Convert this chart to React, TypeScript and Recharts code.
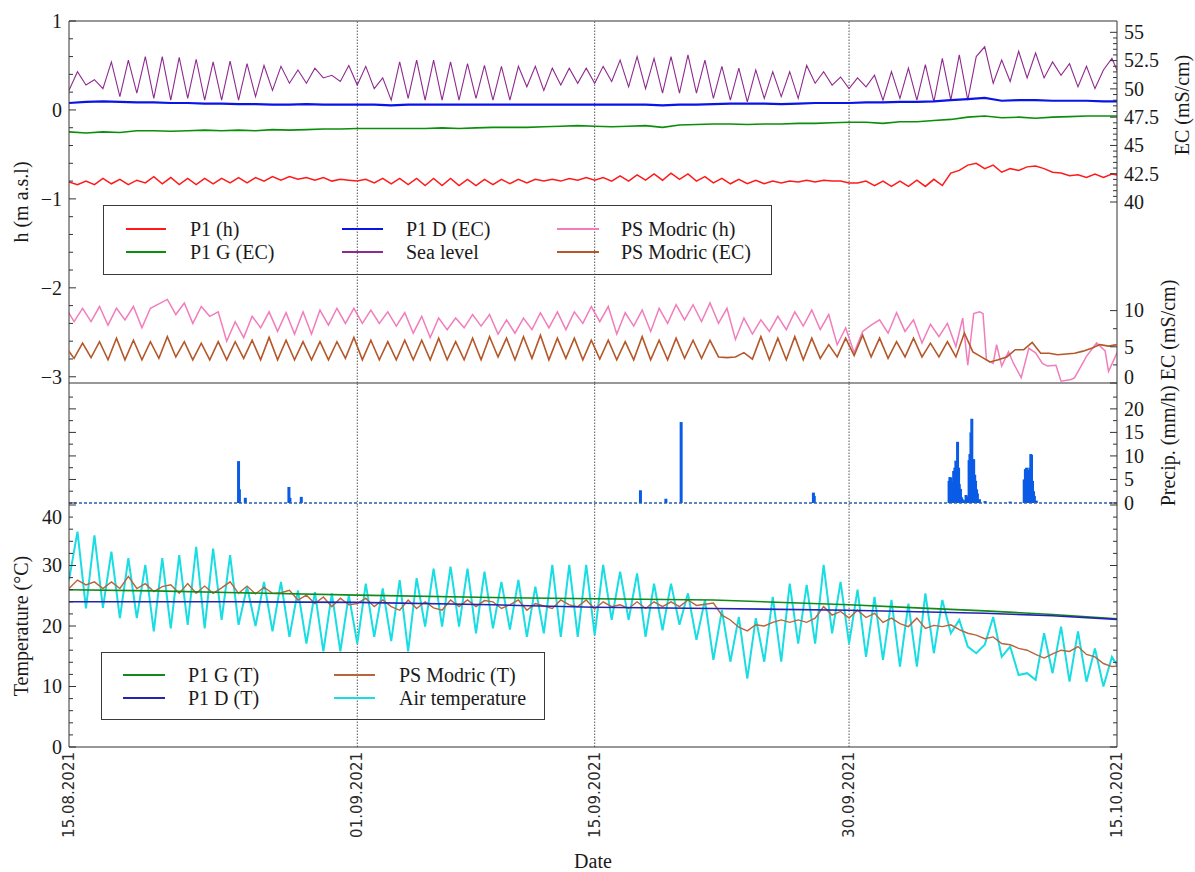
import React from 'react';
import { ComposedChart, Line, Bar, XAxis, YAxis, ReferenceLine, Legend } from 'recharts';

if (typeof document !== 'undefined') {
  document.body.style.margin = '0';
}

// ---------- layout ----------
const W = 1195;
const H = 872;
const LEFT_W = 69;
const RIGHT_W = 78;
const TOP_A = 21;
const BOT_A = 383;
const BOT_B = 505;
const BOT_C = 747;

// ---------- style ----------
const SERIF = '"Liberation Serif", Tinos, "Times New Roman", Times, "DejaVu Serif", serif';
const SANS = '"DejaVu Sans", Verdana, sans-serif';
const FS = 20;
const TEXT = '#1a1a1a';
const AXIS = '#333333';
const RED = '#ff1a1a';
const GREEN = '#0a8f0a';
const BLUE = '#0a14e6';
const PURPLE = '#8f2a8f';
const PINK = '#f27dbd';
const BROWN = '#b4582a';
const PBLUE = '#0a5ce6';
const T_GREEN = '#12891a';
const T_NAVY = '#2424b0';
const T_BROWN = '#b8643c';
const CYAN = '#18dde3';

// ---------- x axis (days since 15.08.2021) ----------
const X_DOMAIN = [0, 61.8];
const DATE_TICKS = [0, 17, 31, 46, 61.8];
const DATE_LABELS = ['15.08.2021', '01.09.2021', '15.09.2021', '30.09.2021', '15.10.2021'];
const GRID_DAYS = [17, 31, 46];

// ---------- y axes ----------
const H_DOMAIN = [-3.07, 1];
const H_MAJOR = [-3, -2, -1, 0, 1];
const EC_DOMAIN = [24, 56];
const EC_MAJOR = [40, 42.5, 45, 47.5, 50, 52.5, 55];
const ECL_DOMAIN = [0, 50];
const ECL_MAJOR = [0, 5, 10];
const P_DOMAIN = [-0.43, 25.5];
const P_MAJOR = [0, 5, 10, 15, 20];
const T_DOMAIN = [0, 40];
const T_MAJOR = [0, 10, 20, 30, 40];

// ---------- data ----------
// Sea level (m a.s.l), half-day samples from day 0
const SEA_LEVEL = [
  0.22, 0.43, 0.28, 0.34, 0.24, 0.54, 0.15, 0.56, 0.19, 0.60, 0.13, 0.60, 0.11, 0.59, 0.13, 0.57,
  0.11, 0.54, 0.11, 0.55, 0.11, 0.52, 0.15, 0.50, 0.22, 0.49, 0.30, 0.45, 0.30, 0.47, 0.36, 0.39,
  0.32, 0.50, 0.28, 0.49, 0.24, 0.36, 0.11, 0.54, 0.13, 0.56, 0.11, 0.56, 0.11, 0.54, 0.11, 0.52,
  0.13, 0.50, 0.11, 0.49, 0.11, 0.49, 0.26, 0.49, 0.22, 0.47, 0.28, 0.47, 0.30, 0.47, 0.30, 0.49,
  0.32, 0.56, 0.26, 0.60, 0.24, 0.58, 0.19, 0.60, 0.19, 0.62, 0.19, 0.56, 0.13, 0.49, 0.11, 0.47,
  0.09, 0.45, 0.13, 0.43, 0.15, 0.43, 0.13, 0.50, 0.30, 0.43, 0.28, 0.37, 0.24, 0.36, 0.26, 0.39,
  0.11, 0.43, 0.13, 0.47, 0.11, 0.51, 0.09, 0.58, 0.11, 0.62, 0.11, 0.60, 0.71, 0.30, 0.56, 0.32,
  0.66, 0.36, 0.64, 0.36, 0.54, 0.39, 0.52, 0.26, 0.49, 0.24, 0.45, 0.58, 0.36,
];
// P1 (h), half-day samples from day 0
const P1_H = [
  -0.81, -0.84, -0.80, -0.84, -0.77, -0.83, -0.78, -0.84, -0.79, -0.82, -0.75, -0.83, -0.76, -0.84, -0.77, -0.84,
  -0.77, -0.83, -0.77, -0.82, -0.76, -0.82, -0.76, -0.80, -0.75, -0.79, -0.75, -0.78, -0.76, -0.79, -0.76, -0.80,
  -0.78, -0.79, -0.80, -0.78, -0.82, -0.77, -0.83, -0.77, -0.84, -0.77, -0.85, -0.77, -0.85, -0.77, -0.85, -0.78,
  -0.85, -0.78, -0.84, -0.78, -0.83, -0.78, -0.82, -0.78, -0.80, -0.78, -0.80, -0.77, -0.79, -0.76, -0.79, -0.76,
  -0.80, -0.74, -0.80, -0.73, -0.79, -0.72, -0.79, -0.71, -0.78, -0.72, -0.80, -0.75, -0.82, -0.77, -0.83, -0.78,
  -0.83, -0.79, -0.83, -0.80, -0.82, -0.80, -0.81, -0.79, -0.81, -0.79, -0.80, -0.80, -0.82, -0.82, -0.80, -0.85,
  -0.80, -0.86, -0.80, -0.86, -0.79, -0.86, -0.78, -0.85, -0.71, -0.68, -0.62, -0.60, -0.66, -0.62, -0.70, -0.66,
  -0.68, -0.64, -0.63, -0.66, -0.70, -0.71, -0.74, -0.73, -0.76, -0.72, -0.76, -0.72, -0.74,
];
// P1 D (EC) and P1 G (EC), daily samples from day 0 (mS/cm)
const P1D_EC = [
  48.75, 48.85, 48.9, 48.85, 48.8, 48.8, 48.75, 48.75, 48.7, 48.7, 48.65, 48.65, 48.6, 48.6, 48.65, 48.6,
  48.6, 48.6, 48.6, 48.55, 48.6, 48.6, 48.6, 48.6, 48.6, 48.6, 48.6, 48.6, 48.6, 48.6, 48.6, 48.6,
  48.6, 48.6, 48.6, 48.55, 48.6, 48.6, 48.65, 48.7, 48.7, 48.7, 48.65, 48.7, 48.75, 48.75, 48.75, 48.8,
  48.8, 48.85, 48.85, 48.9, 49.0, 49.1, 49.2, 48.95, 49.0, 49.0, 48.95, 48.95, 48.95, 48.9, 48.9,
];
const P1G_EC = [
  46.2, 46.1, 46.2, 46.15, 46.3, 46.3, 46.25, 46.3, 46.35, 46.3, 46.35, 46.3, 46.4, 46.35, 46.4, 46.45,
  46.45, 46.5, 46.5, 46.5, 46.5, 46.5, 46.55, 46.5, 46.55, 46.6, 46.6, 46.6, 46.65, 46.7, 46.75, 46.7,
  46.65, 46.7, 46.75, 46.6, 46.8, 46.85, 46.9, 46.9, 46.85, 46.9, 46.9, 46.95, 46.95, 47.0, 47.05, 47.05,
  46.95, 47.1, 47.1, 47.2, 47.3, 47.5, 47.6, 47.45, 47.5, 47.4, 47.5, 47.55, 47.6, 47.6, 47.6,
];
// PS Modric (h): half-day samples from day -0.2 up to day 52.3, then irregular readings
const PS_H = [
  -2.22, -2.38, -2.23, -2.38, -2.21, -2.42, -2.23, -2.36, -2.21, -2.45, -2.23, -2.18, -2.13, -2.30, -2.17, -2.40,
  -2.21, -2.32, -2.27, -2.60, -2.38, -2.56, -2.32, -2.45, -2.27, -2.49, -2.28, -2.52, -2.27, -2.52, -2.25, -2.42,
  -2.23, -2.40, -2.23, -2.40, -2.25, -2.40, -2.27, -2.43, -2.28, -2.51, -2.32, -2.56, -2.34, -2.47, -2.34, -2.45,
  -2.30, -2.43, -2.30, -2.52, -2.36, -2.51, -2.34, -2.47, -2.28, -2.45, -2.27, -2.47, -2.27, -2.40, -2.21, -2.38,
  -2.21, -2.52, -2.28, -2.43, -2.25, -2.49, -2.23, -2.40, -2.19, -2.36, -2.19, -2.38, -2.17, -2.40, -2.23, -2.58,
  -2.34, -2.52, -2.36, -2.49, -2.32, -2.47, -2.27, -2.43, -2.25, -2.47, -2.30, -2.64, -2.45, -2.73, -2.49, -2.42,
  -2.36, -2.51, -2.28, -2.49, -2.36, -2.62, -2.41, -2.55, -2.40, -2.66,
];
const PS_H_LATE_T = [52.7, 53.0, 53.35, 53.7, 53.9, 54.1, 54.5, 54.7, 55.0, 55.4, 55.7, 56.15, 56.6, 57.0, 57.4, 57.7, 58.2, 58.5, 59.1, 59.3, 60.0, 60.6, 61.1, 61.3, 61.85];
const PS_H_LATE_V = [-2.34, -2.87, -2.29, -2.27, -2.29, -2.81, -2.85, -2.64, -2.88, -2.72, -2.85, -3.01, -2.68, -2.73, -2.85, -2.88, -2.87, -3.05, -3.03, -3.01, -2.77, -2.62, -2.71, -2.94, -2.71];
// PS Modric (EC), half-day samples from day -0.2 (mS/cm)
const PS_EC = [
  5.0, 3.4, 5.5, 3.5, 5.7, 3.2, 6.2, 3.2, 5.9, 3.2, 5.7, 3.4, 6.4, 3.6, 5.7, 3.2,
  5.5, 3.2, 5.7, 3.2, 5.7, 3.4, 5.9, 3.2, 6.3, 3.2, 5.9, 3.2, 5.7, 3.2, 5.7, 3.2,
  5.7, 3.4, 6.3, 3.2, 5.9, 3.2, 5.7, 3.2, 5.9, 3.2, 5.9, 3.2, 6.2, 3.2, 5.7, 3.2,
  6.2, 3.2, 6.4, 3.6, 6.2, 3.2, 6.4, 3.4, 6.6, 3.2, 6.2, 3.4, 6.2, 3.2, 5.9, 3.3,
  5.9, 3.2, 5.7, 3.2, 6.4, 3.2, 5.9, 3.2, 6.2, 3.4, 5.9, 3.4, 5.9, 3.6, 3.5, 3.6,
  4.2, 3.3, 6.4, 3.2, 6.2, 3.2, 6.4, 3.2, 6.2, 3.4, 5.3, 3.6, 6.2, 3.8, 6.6, 3.6,
  6.2, 3.4, 5.7, 3.6, 6.2, 3.6, 5.5, 3.6, 5.7, 3.6, 6.9, 4.3, 3.6, 2.9, 3.2, 3.6,
  4.6, 4.6, 5.6, 4.1, 4.1, 3.9, 4.0, 4.1, 4.4, 4.8, 5.3, 5.1, 5.3,
];
// Precipitation (mm/h)
const PRECIP_T = [
  10.0, 10.05, 10.4, 12.97, 13.03, 13.7, 33.7, 35.2, 36.1, 43.9, 43.95,
  51.9, 51.95, 52.01, 52.1, 52.17, 52.24, 52.3, 52.4, 52.46, 52.5, 52.57, 52.63, 52.68, 52.79, 52.9, 52.95,
  53.02, 53.08, 53.13, 53.19, 53.24, 53.3, 53.35, 53.41, 53.46, 53.52, 53.57, 53.69, 54.02, 55.5,
  56.33, 56.4, 56.47, 56.53, 56.6, 56.66, 56.72, 56.76, 56.82, 56.88, 56.93, 57.04,
];
const PRECIP_V = [
  8.9, 2.9, 1.1, 3.4, 1.1, 1.3, 2.7, 0.9, 17.2, 2.2, 1.5,
  4.7, 5.5, 5.4, 4.5, 6.8, 7.5, 9.0, 13.0, 7.5, 4.0, 3.0, 1.2, 0.8, 0.6, 1.7, 1.4,
  1.2, 9.1, 10.4, 15.0, 17.9, 9.3, 9.3, 6.0, 4.7, 2.9, 2.0, 0.8, 0.4, 0.3,
  5.0, 7.2, 7.5, 6.5, 7.0, 7.5, 10.4, 10.2, 4.7, 2.5, 1.5, 0.5,
];
// Temperatures (°C)
const P1G_T_T = [0, 5, 10, 17, 25, 31, 38, 46, 50, 54, 58, 61.8];
const P1G_T_V = [26.0, 25.8, 25.5, 25.1, 24.7, 24.5, 24.3, 23.5, 23.0, 22.5, 21.9, 21.2];
const P1D_T_T = [0, 10, 17, 25, 31, 38, 46, 54, 58, 61.8];
const P1D_T_V = [24.0, 24.0, 23.9, 23.5, 23.1, 22.9, 22.6, 22.1, 21.7, 21.1];
// PS Modric (T), half-day samples from day 0
const PS_T = [
  26.2, 27.6, 26.8, 27.3, 26.2, 27.3, 26.2, 28.2, 26.2, 27.0, 25.7, 26.5, 26.8, 25.4, 27.0, 25.4,
  26.6, 25.4, 26.3, 27.3, 25.4, 26.6, 25.3, 26.4, 25.4, 25.5, 25.9, 24.3, 25.1, 23.7, 24.8, 23.2,
  24.6, 23.5, 23.7, 24.6, 23.2, 24.3, 23.2, 22.6, 24.3, 22.9, 24.0, 23.0, 22.6, 24.3, 23.2, 24.3,
  23.2, 24.2, 24.0, 22.9, 23.5, 24.3, 22.6, 23.7, 23.3, 22.9, 24.3, 23.5, 23.2, 24.3, 22.8, 24.0,
  23.2, 23.5, 22.9, 24.0, 22.9, 24.0, 23.2, 24.0, 23.2, 24.3, 23.4, 23.6, 23.8, 21.8, 21.0, 19.8,
  19.2, 20.2, 20.0, 20.6, 21.0, 20.6, 21.0, 20.6, 21.3, 23.2, 21.8, 22.4, 21.3, 22.6, 21.4, 22.1,
  20.6, 21.3, 20.4, 19.9, 21.3, 19.6, 20.1, 19.9, 20.2, 19.4, 18.8, 18.5, 17.9, 18.2, 17.1, 16.9,
  16.3, 16.0, 15.3, 14.7, 15.4, 16.0, 15.8, 16.6, 15.3, 14.9, 13.8, 13.3, 13.4,
];
// Air temperature, half-day samples from day 0
const AIR_T = [
  27.6, 35.6, 22.9, 35.0, 23.0, 32.3, 21.3, 31.2, 21.3, 30.1, 19.1, 31.2, 19.6, 31.7, 20.2, 33.1,
  19.6, 32.8, 21.0, 31.7, 20.2, 26.5, 20.0, 27.3, 19.1, 27.3, 18.2, 25.9, 17.1, 25.6, 15.8, 25.4,
  15.8, 25.1, 17.1, 27.0, 18.2, 26.2, 17.5, 27.6, 15.8, 27.9, 19.9, 29.5, 19.9, 29.8, 19.9, 29.5,
  18.8, 29.0, 19.6, 27.3, 19.4, 27.6, 18.2, 26.5, 18.8, 30.1, 18.2, 30.1, 18.2, 30.1, 18.5, 30.1,
  21.0, 29.0, 21.0, 28.7, 18.2, 27.0, 19.3, 27.0, 20.2, 25.4, 17.7, 24.3, 14.4, 22.6, 14.1, 21.5,
  11.3, 21.3, 14.1, 24.8, 14.1, 27.0, 17.1, 26.8, 17.1, 30.1, 18.8, 27.3, 17.1, 26.0, 14.9, 24.8,
  14.4, 24.3, 13.3, 23.7, 13.3, 25.4, 15.5, 24.3, 18.8, 21.0, 16.6, 15.5, 16.9, 21.5, 14.9, 16.6,
  11.9, 12.2, 11.1, 18.8, 12.2, 19.9, 10.8, 19.1, 10.8, 16.3, 10.0, 14.9, 12.7,
];

// ---------- helpers ----------
const onGrid = (t0: number, step: number, vals: number[]) =>
  vals.map((v, i) => ({ t: Math.round((t0 + i * step) * 1000) / 1000, v }));
const paired = (ts: number[], vs: number[]) => ts.map((t, i) => ({ t, v: vs[i] }));
const steps = (a: number, b: number, s: number) => {
  const out: number[] = [];
  for (let x = a; x <= b + 1e-9; x += s) out.push(Math.round(x * 1000) / 1000);
  return out;
};

const seaData = onGrid(0, 0.5, SEA_LEVEL);
const p1hData = onGrid(0, 0.5, P1_H);
const p1dData = onGrid(0, 1, P1D_EC);
const p1gData = onGrid(0, 1, P1G_EC);
const psHData = [...onGrid(-0.2, 0.5, PS_H), ...paired(PS_H_LATE_T, PS_H_LATE_V)];
const psEcData = onGrid(-0.2, 0.5, PS_EC);
const precipData = paired(PRECIP_T, PRECIP_V);
const p1gTData = paired(P1G_T_T, P1G_T_V);
const p1dTData = paired(P1D_T_T, P1D_T_V);
const psTData = onGrid(0, 0.5, PS_T);
const airData = onGrid(0, 0.5, AIR_T);

const H_TICKS = steps(-3, 1, 0.2);
const EC_TICKS = steps(40, 55, 0.5);
const ECL_TICKS = steps(0, 10, 2.5);
const P_TICKS = steps(0, 22.5, 2.5);
const T_TICKS = steps(0, 40, 2);

const fmtNum = (v: number) => (v < 0 ? '\u2212' + Math.abs(v) : String(v));

type TickOpts = {
  side: 'left' | 'right';
  majors: number[];
  labels: boolean;
  shift?: { [k: string]: number };
};
const makeYTick = (o: TickOpts) => (props: any) => {
  const { x, y, payload } = props;
  const v = payload.value as number;
  const major = o.majors.some((m) => Math.abs(m - v) < 1e-6);
  const len = major ? 7 : 4;
  const d = o.side === 'left' ? 1 : -1;
  const dy = o.shift && o.shift[String(v)] !== undefined ? o.shift[String(v)] : 0;
  return (
    <g>
      <line x1={x} x2={x + d * len} y1={y} y2={y} stroke={AXIS} strokeWidth={1} />
      {major && o.labels ? (
        <text
          x={x - d * 7}
          y={y + dy}
          dy="0.34em"
          textAnchor={o.side === 'left' ? 'end' : 'start'}
          style={{ fontFamily: SERIF, fontSize: FS }}
          fill={TEXT}
        >
          {fmtNum(v)}
        </text>
      ) : null}
    </g>
  );
};

const DateTick = (props: any) => {
  const { x, y, payload } = props;
  const i = DATE_TICKS.findIndex((d) => Math.abs(d - payload.value) < 1e-6);
  const ty = y + 5;
  return (
    <text
      x={x}
      y={ty}
      transform={`rotate(-90 ${x} ${ty})`}
      textAnchor="end"
      dominantBaseline="central"
      style={{ fontFamily: SANS, fontSize: 15 }}
      fill="#2a2a2a"
    >
      {DATE_LABELS[i]}
    </text>
  );
};

const rotTitle = (text: string, dx: number, dy: number | null) => (p: any) => {
  const vb = p.viewBox;
  const cx = vb.x + dx;
  const cy = dy === null ? vb.y + vb.height / 2 : vb.y + dy;
  return (
    <text
      x={cx}
      y={cy}
      transform={`rotate(-90 ${cx} ${cy})`}
      textAnchor="middle"
      dominantBaseline="central"
      style={{ fontFamily: SERIF, fontSize: FS }}
      fill={TEXT}
    >
      {text}
    </text>
  );
};

type LegItem = { name: string; color: string };
const LEGEND_TOP: LegItem[] = [
  { name: 'P1 (h)', color: RED },
  { name: 'P1 G (EC)', color: GREEN },
  { name: 'P1 D (EC)', color: BLUE },
  { name: 'Sea level', color: PURPLE },
  { name: 'PS Modric (h)', color: PINK },
  { name: 'PS Modric (EC)', color: BROWN },
];
const LEGEND_BOTTOM: LegItem[] = [
  { name: 'P1 G (T)', color: T_GREEN },
  { name: 'P1 D (T)', color: T_NAVY },
  { name: 'PS Modric (T)', color: T_BROWN },
  { name: 'Air temperature', color: CYAN },
];

const legendBox = (
  items: LegItem[],
  w: number,
  h: number,
  cols: { line: [number, number]; text: number }[],
  rows: number[],
) => () => (
  <svg width={w} height={h} style={{ display: 'block', overflow: 'visible' }}>
    <rect x={0.5} y={0.5} width={w - 1} height={h - 1} fill="none" stroke="#3a3a3a" strokeWidth={1} />
    {items.map((it, i) => {
      const c = cols[Math.floor(i / 2)];
      const r = rows[i % 2];
      return (
        <g key={it.name}>
          <line x1={c.line[0]} x2={c.line[1]} y1={r} y2={r} stroke={it.color} strokeWidth={2.2} />
          <text x={c.text} y={r} dy="0.34em" style={{ fontFamily: SERIF, fontSize: FS }} fill={TEXT}>
            {it.name}
          </text>
        </g>
      );
    })}
  </svg>
);

const PrecipBar = (p: any) => {
  if (!p.height || p.height <= 0) return null;
  return <rect x={p.x + p.width / 2 - 1.5} y={p.y} width={3} height={p.height} fill={PBLUE} />;
};

const abs: React.CSSProperties = { position: 'absolute', left: 0, top: 0 };

const gridLines = (axisId: string) =>
  GRID_DAYS.map((d) => (
    <ReferenceLine
      key={'g' + d}
      x={d}
      yAxisId={axisId}
      stroke="#555"
      strokeWidth={1}
      strokeDasharray="1.5 1.5"
      ifOverflow="visible"
    />
  ));

export default function App() {
  return (
    <div style={{ position: 'relative', width: W, height: H, background: '#fff', overflow: 'hidden' }}>
      {/* Panel A: levels and EC (upper) */}
      <div style={abs}>
        <ComposedChart width={W} height={H} margin={{ top: TOP_A, right: 0, bottom: H - BOT_A, left: 0 }}>
          <XAxis dataKey="t" type="number" domain={X_DOMAIN} hide allowDataOverflow />
          <YAxis
            yAxisId="h"
            orientation="left"
            width={LEFT_W}
            type="number"
            domain={H_DOMAIN}
            allowDataOverflow
            ticks={H_TICKS}
            interval={0}
            tickSize={0}
            tickMargin={0}
            tickLine={false}
            axisLine={{ stroke: AXIS }}
            tick={makeYTick({ side: 'left', majors: H_MAJOR, labels: true })}
            label={{ content: rotTitle('h (m a.s.l)', 21, null) }}
          />
          <YAxis
            yAxisId="ec"
            orientation="right"
            width={RIGHT_W}
            type="number"
            domain={EC_DOMAIN}
            allowDataOverflow
            ticks={EC_TICKS}
            interval={0}
            tickSize={0}
            tickMargin={0}
            tickLine={false}
            axisLine={{ stroke: AXIS }}
            tick={makeYTick({ side: 'right', majors: EC_MAJOR, labels: true })}
            label={{ content: rotTitle('EC (mS/cm)', 65, 84) }}
          />
          <ReferenceLine y={H_DOMAIN[1]} yAxisId="h" stroke={AXIS} strokeWidth={1.2} />
          <ReferenceLine y={H_DOMAIN[0]} yAxisId="h" stroke={AXIS} strokeWidth={1.2} />
          {gridLines('h')}
          <Line data={psHData} dataKey="v" yAxisId="h" type="linear" stroke={PINK} strokeWidth={1.5} dot={false} isAnimationActive={false} />
          <Line data={seaData} dataKey="v" yAxisId="h" type="linear" stroke={PURPLE} strokeWidth={1.1} dot={false} isAnimationActive={false} />
          <Line data={p1gData} dataKey="v" yAxisId="ec" type="linear" stroke={GREEN} strokeWidth={1.6} dot={false} isAnimationActive={false} />
          <Line data={p1dData} dataKey="v" yAxisId="ec" type="linear" stroke={BLUE} strokeWidth={2.2} dot={false} isAnimationActive={false} />
          <Line data={p1hData} dataKey="v" yAxisId="h" type="linear" stroke={RED} strokeWidth={1.5} dot={false} isAnimationActive={false} />
          <Legend
            layout="horizontal"
            verticalAlign="middle"
            align="center"
            wrapperStyle={{ position: 'absolute', left: 103, top: 205, width: 669, height: 70 }}
            content={legendBox(
              LEGEND_TOP,
              669,
              70,
              [
                { line: [23, 63], text: 87 },
                { line: [239, 280], text: 303 },
                { line: [454, 496], text: 518 },
              ],
              [24, 47],
            )}
          />
        </ComposedChart>
      </div>

      {/* Panel A overlay: PS Modric EC on its own lower EC axis */}
      <div style={abs}>
        <ComposedChart width={W} height={H} margin={{ top: TOP_A, right: 0, bottom: H - BOT_A, left: 0 }}>
          <XAxis dataKey="t" type="number" domain={X_DOMAIN} hide allowDataOverflow />
          <YAxis yAxisId="dummy" orientation="left" width={LEFT_W} tick={false} axisLine={false} tickLine={false} />
          <YAxis
            yAxisId="ecl"
            orientation="right"
            width={RIGHT_W}
            type="number"
            domain={ECL_DOMAIN}
            allowDataOverflow
            ticks={ECL_TICKS}
            interval={0}
            tickSize={0}
            tickMargin={0}
            tickLine={false}
            axisLine={false}
            tick={makeYTick({ side: 'right', majors: ECL_MAJOR, labels: true, shift: { '0': -6 } })}
          />
          <Line data={psEcData} dataKey="v" yAxisId="ecl" type="linear" stroke={BROWN} strokeWidth={1.6} dot={false} isAnimationActive={false} />
        </ComposedChart>
      </div>

      {/* Panel B: precipitation */}
      <div style={abs}>
        <ComposedChart
          width={W}
          height={H}
          data={precipData}
          margin={{ top: BOT_A, right: 0, bottom: H - BOT_B, left: 0 }}
        >
          <XAxis dataKey="t" type="number" domain={X_DOMAIN} hide allowDataOverflow />
          <YAxis
            yAxisId="pl"
            orientation="left"
            width={LEFT_W}
            type="number"
            domain={P_DOMAIN}
            allowDataOverflow
            ticks={P_TICKS}
            interval={0}
            tickSize={0}
            tickMargin={0}
            tickLine={false}
            axisLine={{ stroke: AXIS }}
            tick={makeYTick({ side: 'left', majors: P_MAJOR, labels: false })}
          />
          <YAxis
            yAxisId="pr"
            orientation="right"
            width={RIGHT_W}
            type="number"
            domain={P_DOMAIN}
            allowDataOverflow
            ticks={P_TICKS}
            interval={0}
            tickSize={0}
            tickMargin={0}
            tickLine={false}
            axisLine={{ stroke: AXIS }}
            tick={makeYTick({ side: 'right', majors: P_MAJOR, labels: true })}
            label={{ content: rotTitle('Precip. (mm/h) EC (mS/cm)', 51, 10) }}
          />
          {gridLines('pr')}
          <ReferenceLine y={0} yAxisId="pr" stroke="#2a5cb0" strokeWidth={1.5} strokeDasharray="3 2" />
          <Bar dataKey="v" yAxisId="pr" fill={PBLUE} barSize={3} shape={PrecipBar} isAnimationActive={false} />
        </ComposedChart>
      </div>

      {/* Panel C: temperatures */}
      <div style={abs}>
        <ComposedChart width={W} height={H} margin={{ top: BOT_B, right: 0, bottom: 0, left: 0 }}>
          <XAxis
            dataKey="t"
            type="number"
            domain={X_DOMAIN}
            allowDataOverflow
            ticks={DATE_TICKS}
            interval={0}
            height={H - BOT_C}
            tickSize={0}
            tickMargin={0}
            tickLine={false}
            axisLine={{ stroke: AXIS, strokeWidth: 1.2 }}
            tick={DateTick}
            label={{
              content: (p: any) => {
                const vb = p.viewBox;
                return (
                  <text
                    x={vb.x + vb.width / 2}
                    y={vb.y + vb.height - 4}
                    textAnchor="middle"
                    style={{ fontFamily: SERIF, fontSize: FS }}
                    fill={TEXT}
                  >
                    Date
                  </text>
                );
              },
            }}
          />
          <YAxis
            yAxisId="tl"
            orientation="left"
            width={LEFT_W}
            type="number"
            domain={T_DOMAIN}
            allowDataOverflow
            ticks={T_TICKS}
            interval={0}
            tickSize={0}
            tickMargin={0}
            tickLine={false}
            axisLine={{ stroke: AXIS }}
            tick={makeYTick({ side: 'left', majors: T_MAJOR, labels: true, shift: { '40': 12 } })}
            label={{ content: rotTitle('Temperature (\u00B0C)', 21, null) }}
          />
          <YAxis
            yAxisId="tr"
            orientation="right"
            width={RIGHT_W}
            type="number"
            domain={T_DOMAIN}
            allowDataOverflow
            ticks={T_TICKS}
            interval={0}
            tickSize={0}
            tickMargin={0}
            tickLine={false}
            axisLine={{ stroke: AXIS }}
            tick={makeYTick({ side: 'right', majors: T_MAJOR, labels: false })}
          />
          {gridLines('tl')}
          <Line data={airData} dataKey="v" yAxisId="tl" type="linear" stroke={CYAN} strokeWidth={2} dot={false} isAnimationActive={false} />
          <Line data={psTData} dataKey="v" yAxisId="tl" type="linear" stroke={T_BROWN} strokeWidth={1.4} dot={false} isAnimationActive={false} />
          <Line data={p1gTData} dataKey="v" yAxisId="tl" type="linear" stroke={T_GREEN} strokeWidth={1.6} dot={false} isAnimationActive={false} />
          <Line data={p1dTData} dataKey="v" yAxisId="tl" type="linear" stroke={T_NAVY} strokeWidth={1.6} dot={false} isAnimationActive={false} />
          <Legend
            layout="horizontal"
            verticalAlign="middle"
            align="center"
            wrapperStyle={{ position: 'absolute', left: 101, top: 652, width: 444, height: 68 }}
            content={legendBox(
              LEGEND_BOTTOM,
              444,
              68,
              [
                { line: [22, 64], text: 87 },
                { line: [233, 274], text: 298 },
              ],
              [23, 46],
            )}
          />
        </ComposedChart>
      </div>
    </div>
  );
}
